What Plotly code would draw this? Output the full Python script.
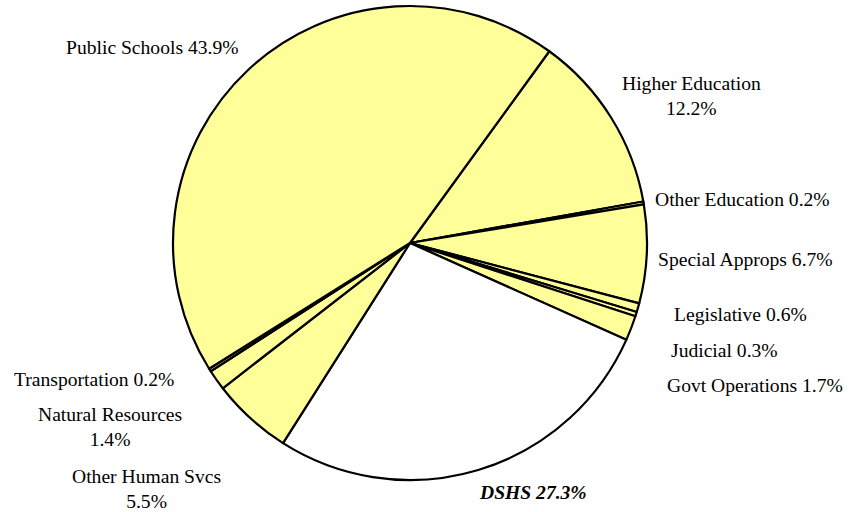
import plotly.graph_objects as go

categories = ["Higher Education", "Other Education", "Special Approps", "Legislative",
              "Judicial", "Govt Operations", "DSHS", "Other Human Svcs",
              "Natural Resources", "Transportation", "Public Schools"]
values = [12.2, 0.2, 6.7, 0.6, 0.3, 1.7, 27.3, 5.5, 1.4, 0.2, 43.9]
label_texts = ["Higher Education<br>12.2%", "Other Education 0.2%", "Special Approps 6.7%",
               "Legislative 0.6%", "Judicial 0.3%", "Govt Operations 1.7%",
               "<b><i>DSHS 27.3%</i></b>", "Other Human Svcs<br>5.5%",
               "Natural Resources<br>1.4%", "Transportation 0.2%", "Public Schools 43.9%"]

W, H = 854, 512
colors = ["#FFFF99" if c != "DSHS" else "#FFFFFF" for c in categories]

fig = go.Figure(go.Pie(
    labels=categories, values=values, sort=False, direction="clockwise",
    rotation=36, textinfo="none", hoverinfo="label+percent",
    marker=dict(colors=colors, line=dict(color="black", width=2.2)),
    domain=dict(x=[(410 - 237) / W, (410 + 237) / W], y=[1 - 480 / H, 1 - 6 / H]),
    showlegend=False,
))

# label anchor positions in pixels (x, y, xanchor)
label_pos = [(691, 96, "center"), (653, 199, "left"), (656, 259, "left"),
             (672, 314, "left"), (669, 350, "left"), (665, 385, "left"),
             (533, 492, "center"), (146, 489, "center"), (110, 427, "center"),
             (12, 379, "left"), (152, 47, "center")]

for txt, (px, py, xa) in zip(label_texts, label_pos):
    fig.add_annotation(x=px / W, y=1 - py / H, xref="paper", yref="paper",
                       text=txt, showarrow=False, xanchor=xa, yanchor="middle",
                       align="center",
                       font=dict(family="Liberation Serif", size=19.6, color="black"))

fig.update_layout(width=W, height=H, margin=dict(l=0, r=0, t=0, b=0),
                  paper_bgcolor="white", plot_bgcolor="white")
fig.write_html("out.html", config={"displayModeBar": False},
               post_script="document.body.style.margin='0';")
